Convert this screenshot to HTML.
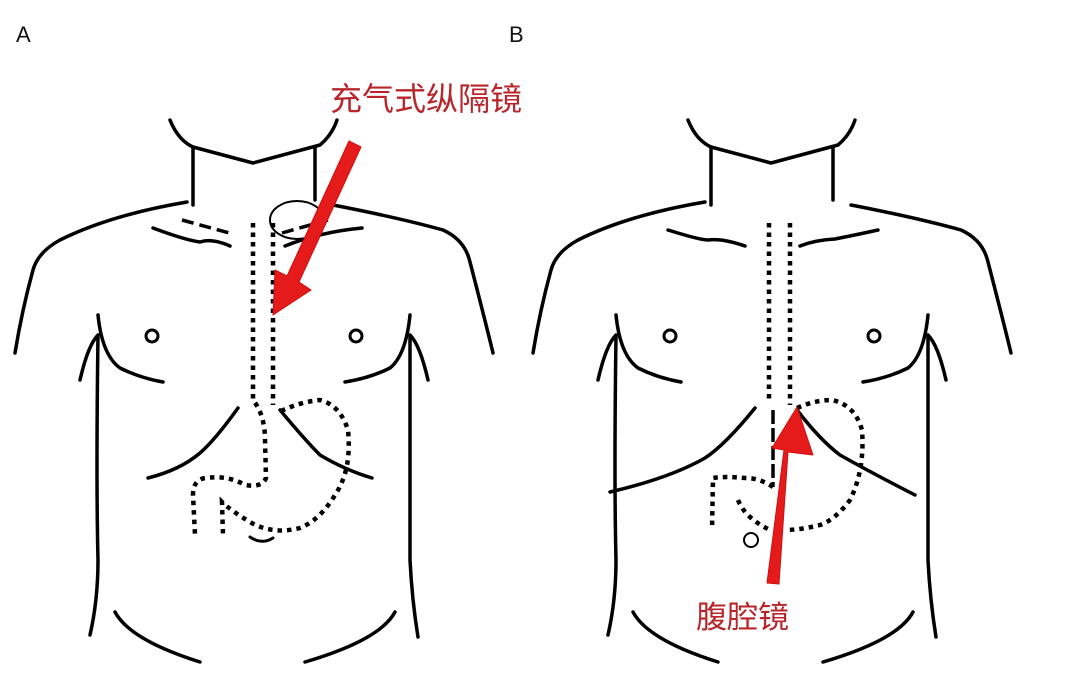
<!DOCTYPE html>
<html><head><meta charset="utf-8"><style>
html,body{margin:0;padding:0;background:#fff;}
svg{display:block;}
</style></head><body>
<svg width="1080" height="683" viewBox="0 0 1080 683" xmlns="http://www.w3.org/2000/svg">
<defs>
<g id="body" fill="none" stroke="#000" stroke-width="3.5" stroke-linecap="round" stroke-linejoin="round">
  <path d="M170,120 Q178,140 193,147 L253,163 L320,145 Q332,135 337,120"/>
  <path d="M193,147 L193,205"/>
  <path d="M315,147 L315,200"/>
  <path d="M187,202 Q110,215 60,240 Q38,252 33,270 Q22,310 15,353"/>
  <path d="M333,205 Q400,218 443,230 Q465,240 470,262 Q485,320 493,353"/>
  <path d="M98,315 Q102,355 120,368 Q140,378 163,382"/>
  <path d="M80,380 Q88,345 98,335 Q96,480 98,560 Q98,600 90,635"/>
  <path d="M410,315 Q406,355 390,368 Q370,378 345,382"/>
  <path d="M428,380 Q420,345 410,335 Q410,480 410,560 Q412,600 418,637"/>
  <circle cx="152" cy="336" r="6" stroke-width="3"/>
  <circle cx="356" cy="336" r="6" stroke-width="3"/>
  <path d="M115,612 Q130,640 200,662"/>
  <path d="M395,612 Q380,640 305,662"/>
</g>
</defs>

<text x="16" y="42" font-family="Liberation Sans, sans-serif" font-size="22" fill="#111">A</text>
<text x="509" y="42" font-family="Liberation Sans, sans-serif" font-size="22" fill="#111">B</text>

<use href="#body"/>
<g fill="none" stroke="#000" stroke-width="3.5" stroke-linecap="round">
  <path d="M153,228 Q185,240 200,242 Q212,238 230,246"/>
  <path d="M285,246 Q320,232 362,228"/>
  <path d="M238,408 Q215,440 200,453 Q180,470 148,478"/>
  <path d="M280,410 Q305,440 320,455 Q345,470 372,478"/>
  <path d="M250,537 Q262,545 273,538" stroke-width="3"/>
</g>
<g fill="none" stroke="#000" stroke-width="3.5" stroke-dasharray="12,6">
  <path d="M182,220 L233,234"/>
  <path d="M282,233 L328,220"/>
</g>
<ellipse cx="297" cy="220" rx="27" ry="19" fill="none" stroke="#000" stroke-width="2"/>
<g fill="none" stroke="#000" stroke-width="4.5" stroke-dasharray="4.5,5">
  <path d="M253,223 L253,400 Q265,415 265,440 L266,478 Q262,488 245,485 Q228,475 205,478 Q193,480 193,495 L195,535"/>
  <path d="M273,223 L273,405"/>
  <path d="M281,411 Q300,402 320,400 Q340,405 348,430 Q352,470 335,495 Q320,520 300,528 Q272,535 250,522 Q230,510 222,502 L223,535"/>
</g>
<path d="M349,141 L361,147 L299,282 L311,290 L273,315 L275,270 L287,276 Z" fill="#e51a1a" stroke="#d01010" stroke-width="1" stroke-linejoin="round"/>
<text x="330" y="110" font-family="Liberation Sans, 'Noto Sans CJK SC', sans-serif" font-size="32" fill="#b8262c">充气式纵隔镜</text>

<use href="#body" transform="translate(518,0)"/>
<g fill="none" stroke="#000" stroke-width="3.5" stroke-linecap="round">
  <path d="M668,230 Q700,240 708,240 Q722,238 745,246"/>
  <path d="M800,246 Q815,240 835,239 Q860,234 878,230"/>
  <path d="M755,408 Q725,445 705,458 Q670,478 610,492"/>
  <path d="M797,410 Q820,440 840,455 Q870,472 915,495"/>
</g>
<g fill="none" stroke="#000" stroke-width="4.5" stroke-dasharray="4.5,5">
  <path d="M769,223 L769,400"/>
  <path d="M790,223 L790,405"/>
  <path d="M797,408 Q815,400 832,400 Q855,405 862,430 Q865,470 850,500 Q835,520 820,525 Q800,530 785,530"/>
  <path d="M773,487 Q760,478 745,478 Q725,476 713,478 L712,530"/>
  <path d="M738,500 Q745,518 770,530"/>
</g>
<path d="M773,410 L773,487" stroke="#000" stroke-width="3.5" stroke-dasharray="14,4" fill="none"/>
<circle cx="751" cy="540" r="7" fill="none" stroke="#000" stroke-width="2"/>
<path d="M767,583 L779,584 L788,452 L813,455 L797,407 L772,448 L784,450 Z" fill="#e51a1a" stroke="#d01010" stroke-width="1" stroke-linejoin="round"/>
<text x="696" y="628" font-family="Liberation Sans, 'Noto Sans CJK SC', sans-serif" font-size="31" fill="#b8262c">腹腔镜</text>
</svg>
</body></html>
